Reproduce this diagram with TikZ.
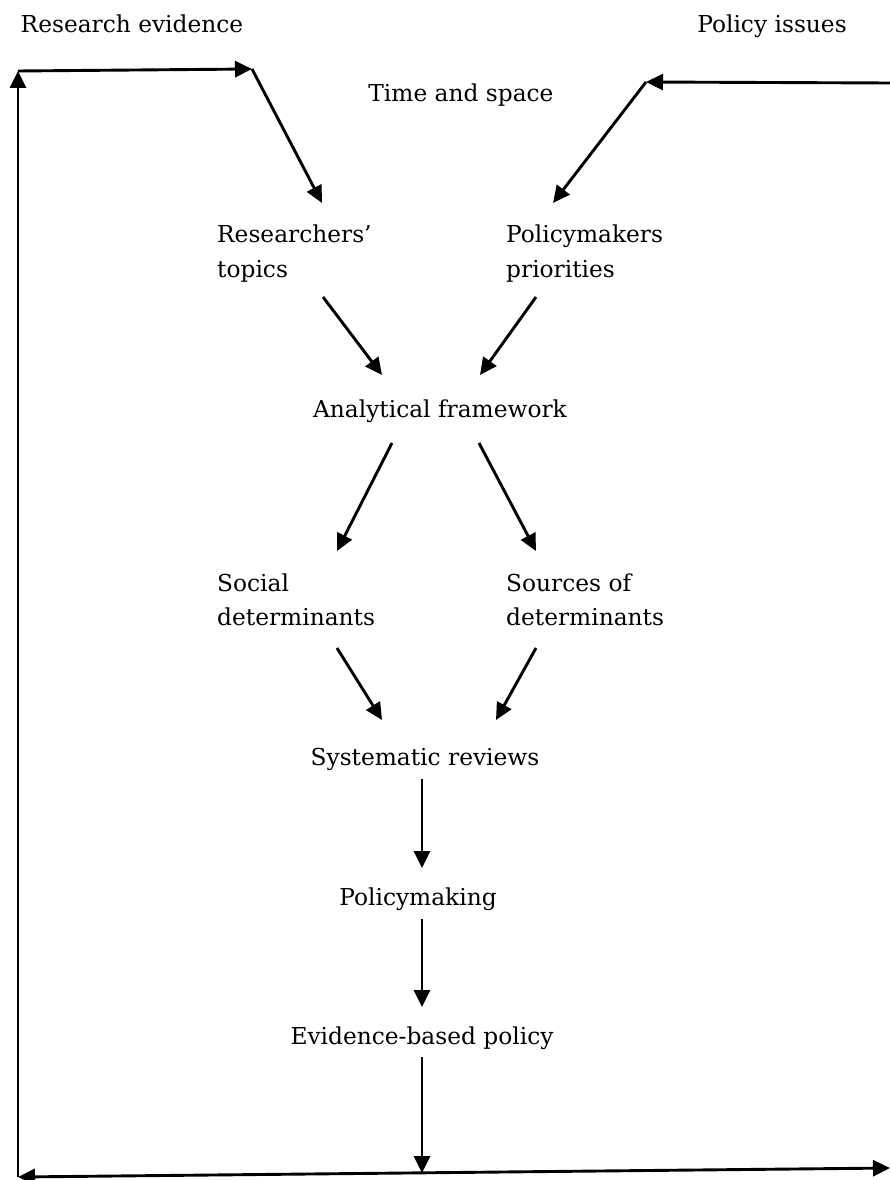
\documentclass[tikz,border=0pt]{standalone}
\usepackage{fontspec}
\setmainfont{DejaVu Serif}
\usetikzlibrary{arrows.meta}
\begin{document}
\begin{tikzpicture}[x=1pt,y=-1pt,
  lbl/.style={inner sep=0pt, font=\fontsize{23.3}{34.5}\selectfont},
  arr/.style={line width=2.9pt, -{Triangle[length=17pt,width=16pt]}}]
\useasboundingbox (0,0) rectangle (890,1180);
% labels
\node[lbl, anchor=base] (re) at (132,33) {Research evidence};
\node[lbl, anchor=base] (pi) at (772,33) {Policy issues};
\node[lbl, anchor=base] (ts) at (461,102) {Time and space};
\node[lbl, anchor=base west] (rt) at (217,242.5) {\begin{tabular}[t]{@{}l@{}}Researchers’\\topics\end{tabular}};
\node[lbl, anchor=base west] (pp) at (506,242.5) {\begin{tabular}[t]{@{}l@{}}Policymakers\\priorities\end{tabular}};
\node[lbl, anchor=base] (af) at (440,417) {Analytical framework};
\node[lbl, anchor=base west] (sd) at (217,591) {\begin{tabular}[t]{@{}l@{}}Social\\determinants\end{tabular}};
\node[lbl, anchor=base west] (so) at (506,591) {\begin{tabular}[t]{@{}l@{}}Sources of\\determinants\end{tabular}};
\node[lbl, anchor=base] (sr) at (425,765) {Systematic reviews};
\node[lbl, anchor=base] (pm) at (418,905) {Policymaking};
\node[lbl, anchor=base] (eb) at (422,1044) {Evidence-based policy};
% loop coordinates
\coordinate (bl) at (18,1177);
\coordinate (tl) at (18,71);
\coordinate (tlr) at (252,69);
\coordinate (tr) at (890,83);
\coordinate (trl) at (646,82);
\coordinate (br) at (890,1168);
\coordinate (bm) at (422,1173);
% loop
\draw[line width=2.9pt, {Triangle[length=17pt,width=16pt]}-{Triangle[length=17pt,width=16pt]}] (bl) -- (br);
\draw[arr] (bl) -- (tl);
\draw[arr] (tl) -- (tlr);
\draw[arr] (tlr) -- ([shift={(105,-39.5)}]rt.base west);
\draw[arr] (tr) -- (trl);
\draw[arr] (trl) -- ([shift={(47,-39.5)}]pp.base west);
% flow
\draw[arr] ([shift={(106,54.5)}]rt.base west) -- ([shift={(-58,-42)}]af.base);
\draw[arr] ([shift={(30,54.5)}]pp.base west) -- ([shift={(40,-42)}]af.base);
\draw[arr] ([shift={(-48,26)}]af.base) -- ([shift={(120,-40)}]sd.base west);
\draw[arr] ([shift={(39,26)}]af.base) -- ([shift={(30,-40)}]so.base west);
\draw[arr] ([shift={(120,57)}]sd.base west) -- ([shift={(-43,-45)}]sr.base);
\draw[arr] ([shift={(30,57)}]so.base west) -- ([shift={(71,-45)}]sr.base);
\draw[arr] ([shift={(-3,14)}]sr.base) -- ([shift={(4,-37)}]pm.base);
\draw[arr] ([shift={(4,14)}]pm.base) -- ([shift={(0,-37)}]eb.base);
\draw[arr] ([shift={(0,13)}]eb.base) -- (bm);
\end{tikzpicture}
\end{document}
